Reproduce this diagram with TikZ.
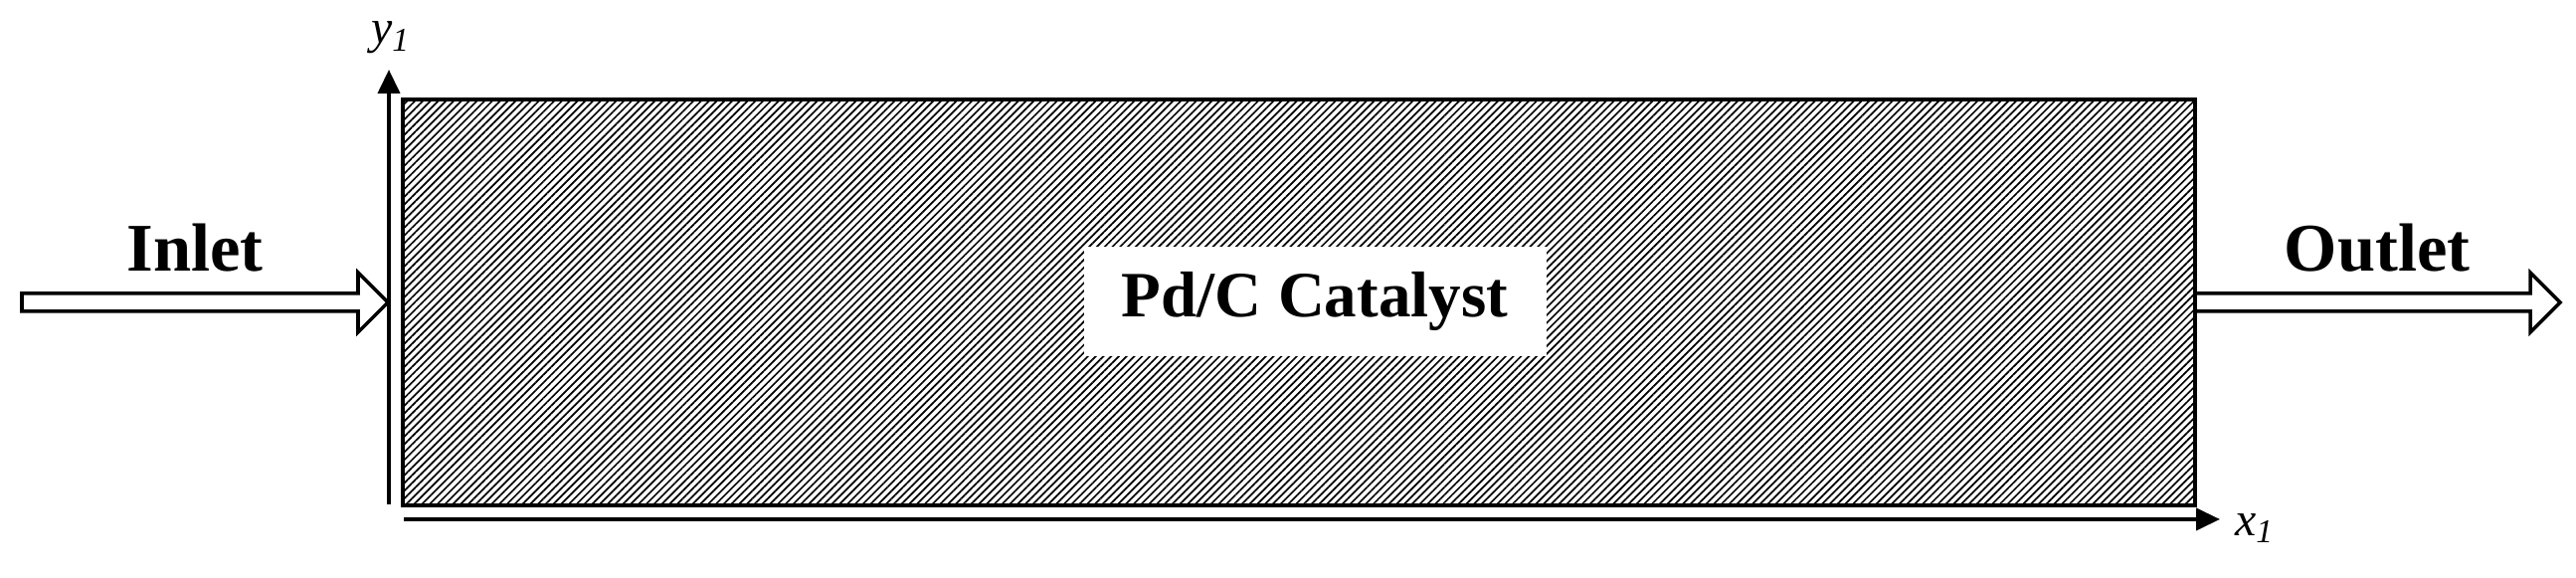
\documentclass[tikz,border=0pt]{standalone}
\usepackage{fontspec}
\setmainfont{Liberation Serif}
\usetikzlibrary{arrows.meta,patterns.meta,calc}

% hollow flow arrow from #1 to tip #2
\newcommand{\flowarrow}[2]{%
  \draw[flow] ($(#1)+(0,0.09)$) -- ($(#2)+(-0.3,0.09)$) -- ($(#2)+(-0.3,0.3)$)
    -- (#2) -- ($(#2)+(-0.3,-0.3)$) -- ($(#2)+(-0.3,-0.09)$)
    -- ($(#1)+(0,-0.09)$) -- cycle;}

\begin{document}
\begin{tikzpicture}[
  flow/.style={draw=black, fill=white, line width=1pt, line join=miter},
  axis/.style={line width=1.15pt, -{Triangle[length=0.24cm,width=0.22cm]}},
  bed/.style={line width=1.4pt, pattern={Lines[angle=45,distance=0.055cm,line width=0.017cm]}},
  lbl/.style={font=\bfseries\fontsize{19.5}{22}\selectfont, anchor=base},
  axlbl/.style={font=\itshape\fontsize{13.6}{16}\selectfont, inner sep=0pt}]
\useasboundingbox (0,0) rectangle (25.90,5.81);

% packed bed
\coordinate (SW) at (4.05,0.73);
\coordinate (NE) at (22.07,4.81);
\fill[white] (SW) rectangle (NE);
\draw[bed] (SW) rectangle (NE);
\node[fill=white, minimum width=4.65cm, minimum height=1.1cm,
  font=\bfseries\fontsize{18.5}{22}\selectfont] (cat) at (13.22,2.78) {Pd/C Catalyst};

% axes
\coordinate (yorig) at (3.91,0.74);
\coordinate (ytip) at (3.91,5.11);
\coordinate (xorig) at (4.06,0.59);
\coordinate (xtip) at (22.32,0.59);
\draw[axis] (yorig) -- (ytip);
\draw[axis] (xorig) -- (xtip);
\node[axlbl] (ylab) at (3.93,5.43) {y\textsubscript{1}};
\node[axlbl] (xlab) at (22.67,0.50) {x\textsubscript{1}};

% inlet / outlet
\coordinate (inS) at (0.22,2.77);
\coordinate (inT) at (3.90,2.77);
\coordinate (outS) at (22.07,2.77);
\coordinate (outT) at (25.74,2.77);
\flowarrow{inS}{inT}
\flowarrow{outS}{outT}
\node[lbl] (inlet) at (1.96,3.08) {Inlet};
\node[lbl] (outlet) at (23.90,3.08) {Outlet};

\end{tikzpicture}
\end{document}
